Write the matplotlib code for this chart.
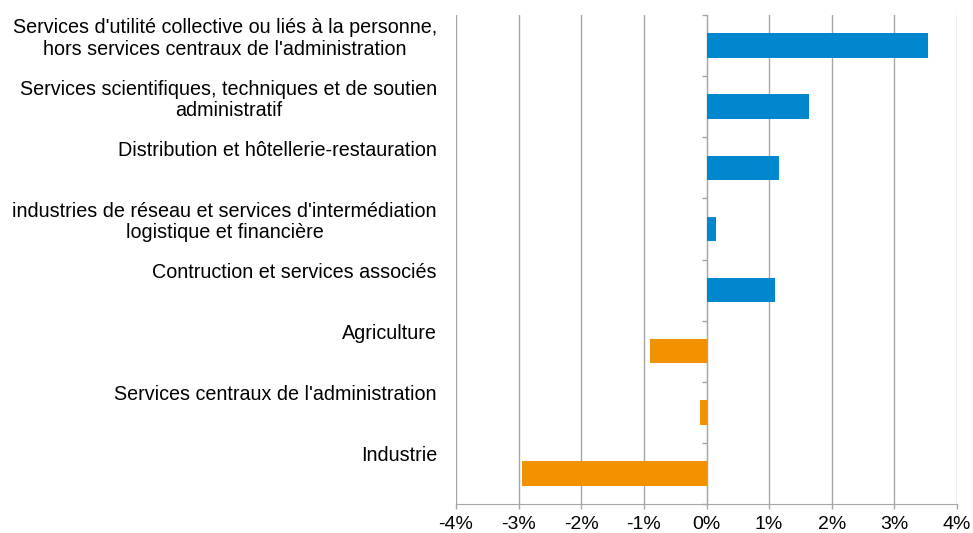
import matplotlib
matplotlib.use("Agg")
import matplotlib.pyplot as plt
from matplotlib.ticker import FuncFormatter, FixedLocator

plt.rcParams['font.family'] = ['Liberation Sans', 'DejaVu Sans']
plt.rcParams['axes.unicode_minus'] = False

categories = [
    "Services d'utilité collective ou liés à la personne,\nhors services centraux de l'administration",
    "Services scientifiques, techniques et de soutien\nadministratif",
    "Distribution et hôtellerie-restauration",
    "industries de réseau et services d'intermédiation\nlogistique et financière",
    "Contruction et services associés",
    "Agriculture",
    "Services centraux de l'administration",
    "Industrie",
]
values = [3.54, 1.63, 1.16, 0.15, 1.09, -0.91, -0.10, -2.95]
xticks = [-4, -3, -2, -1, 0, 1, 2, 3, 4]

BLUE = "#0087CD"
ORANGE = "#F39200"
GRID = "#A6A6A6"

fig = plt.figure(figsize=(9.73, 5.33), dpi=100)
ax = fig.add_axes([456 / 973, 1 - 504 / 533, (957 - 456) / 973, (504 - 15) / 533])

pos = list(range(len(categories)))
colors = [BLUE if v >= 0 else ORANGE for v in values]
ax.barh(pos, values, height=0.4, color=colors, zorder=3)

ax.set_xlim(xticks[0], xticks[-1])
ax.set_ylim(len(categories) - 0.5, -0.5)
ax.xaxis.set_major_locator(FixedLocator(xticks))
ax.xaxis.set_major_formatter(FuncFormatter(lambda v, p: f"{v:.0f}%"))
ax.grid(axis='x', color=GRID, linewidth=1.0, zorder=0)
ax.set_axisbelow(True)

for s in ['top', 'right']:
    ax.spines[s].set_visible(False)
ax.spines['bottom'].set_color(GRID)
ax.spines['left'].set_position(('data', 0))
ax.spines['left'].set_color(GRID)
ax.spines['left'].set_zorder(2)

ax.yaxis.set_major_locator(FixedLocator([p - 0.5 for p in pos] + [len(pos) - 0.5]))
ax.yaxis.set_major_formatter(FuncFormatter(lambda v, p: ""))
ax.tick_params(axis='y', direction='out', length=3.6, color=GRID, width=1)
ax.tick_params(axis='x', direction='out', length=3.6, color=GRID, width=1,
               labelsize=14, pad=5, labelcolor='black')

for p, lab in zip(pos, categories):
    ax.annotate(lab, xy=(0, p), xycoords=('axes fraction', 'data'),
                xytext=(-13.7, 19.5), textcoords='offset points',
                ha='right', va='top', multialignment='center',
                fontsize=14.2, linespacing=1.16, color='black')

fig.savefig("out.png", dpi=100)
